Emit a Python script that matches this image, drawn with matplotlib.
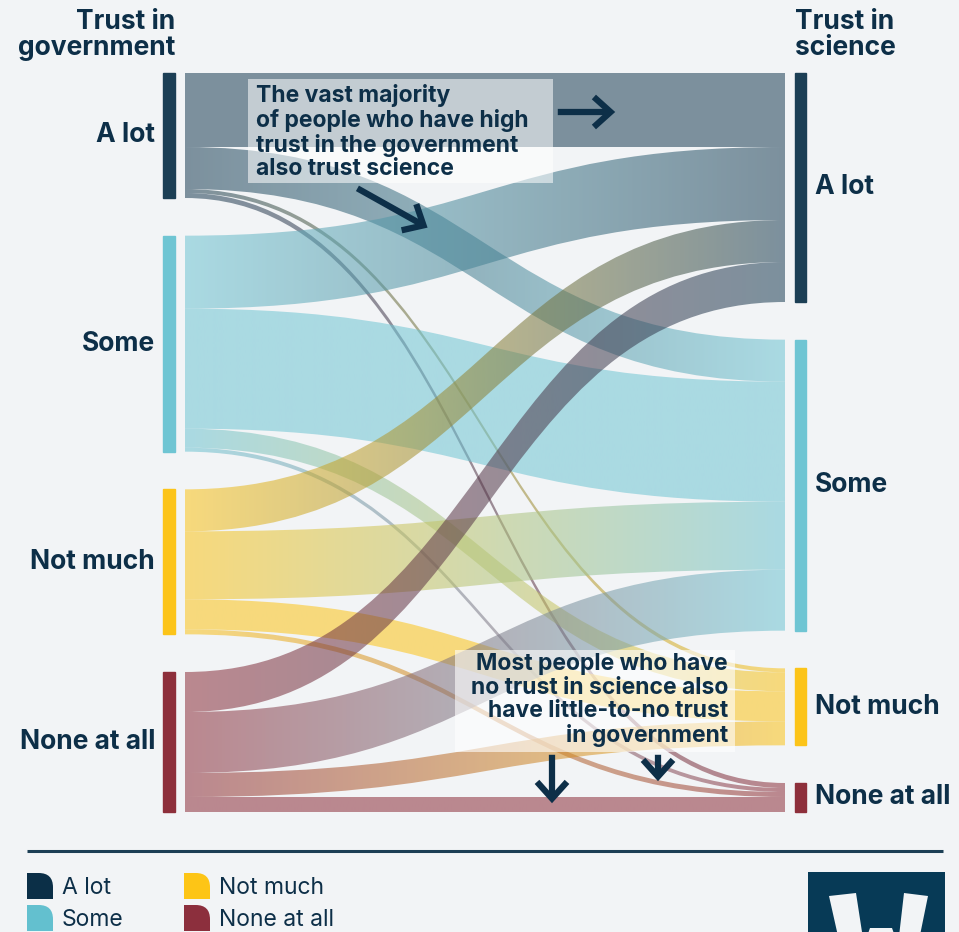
import numpy as np
import matplotlib
matplotlib.use('Agg')
import matplotlib.pyplot as plt
from matplotlib.path import Path
from matplotlib.patches import PathPatch, Rectangle, FancyArrowPatch, Polygon
from matplotlib.colors import to_rgb

# categories (same on both sides)
levels = ['A lot', 'Some', 'Not much', 'None at all']
node_colors = ['#1c3f55', '#6fc5d3', '#fcc419', '#8d2f3b']
legend_colors = ['#0b2f47', '#63c0cf', '#fdc516', '#8c2f3d']

# flows: rows = trust in government, columns = trust in science
flow_alot = [74, 42, 4, 5]
flow_some = [73, 120, 19, 4]
flow_notmuch = [42, 68, 30, 5]
flow_none = [40, 61, 24, 15]
flows = np.array([flow_alot, flow_some, flow_notmuch, flow_none], dtype=float)

BG = '#f2f4f6'
INK = '#0d2f48'
FONT = ['Inter', 'DejaVu Sans']

fig = plt.figure(figsize=(9.59, 9.32), dpi=100, facecolor=BG)
ax = fig.add_axes([0, 0, 1, 1])
ax.set_facecolor(BG)
ax.axis('off')

top, bottom = 73, 812
left_sizes = flows.sum(axis=1)
right_sizes = flows.sum(axis=0)


def node_tops(sizes):
    gap = (bottom - top - sizes.sum()) / (len(sizes) - 1)
    tops = []
    y = top
    for s in sizes:
        tops.append(y)
        y += s + gap
    return tops


left_tops = node_tops(left_sizes)
right_tops = node_tops(right_sizes)

xl_bar, xr_bar = 163, 795
bar_w = 12
x0, x1 = 185, 785
xm = (x0 + x1) / 2

# ribbon positions: outflows stacked by target, inflows stacked by source
left_off = list(left_tops)
right_off = list(right_tops)
ribbons = []
for i in range(4):
    for j in range(4):
        v = flows[i, j]
        ribbons.append((i, j, left_off[i], v))
        left_off[i] += v
ribbon_end = {}
for j in range(4):
    for i in range(4):
        ribbon_end[(i, j)] = right_off[j]
        right_off[j] += flows[i, j]


def ribbon_path(ya, yb, w):
    verts = [(x0, ya), (xm, ya), (xm, yb), (x1, yb),
             (x1, yb + w), (xm, yb + w), (xm, ya + w), (x0, ya + w), (x0, ya)]
    codes = [Path.MOVETO, Path.CURVE4, Path.CURVE4, Path.CURVE4,
             Path.LINETO, Path.CURVE4, Path.CURVE4, Path.CURVE4, Path.CLOSEPOLY]
    return Path(verts, codes)


n = 256
t = np.linspace(0, 1, n)
for i, j, ya, v in ribbons:
    yb = ribbon_end[(i, j)]
    patch = PathPatch(ribbon_path(ya, yb, v), facecolor='none', edgecolor='none')
    ax.add_patch(patch)
    c0 = np.array(to_rgb(node_colors[i]))
    c1 = np.array(to_rgb(node_colors[j]))
    grad = np.zeros((1, n, 4))
    grad[0, :, :3] = c0[None, :] * (1 - t[:, None]) + c1[None, :] * t[:, None]
    grad[0, :, 3] = 0.55
    im = ax.imshow(grad, extent=(x0, x1, bottom + 5, top - 5), aspect='auto',
                   interpolation='bilinear', zorder=2)
    im.set_clip_path(patch)

# node bars and labels
for k in range(4):
    ax.add_patch(Rectangle((xl_bar, left_tops[k]), bar_w, left_sizes[k],
                           color=node_colors[k], zorder=3))
    ax.add_patch(Rectangle((xr_bar, right_tops[k]), bar_w - 1, right_sizes[k],
                           color=node_colors[k], zorder=3))
    ax.text(155, left_tops[k] + left_sizes[k] / 2, levels[k], ha='right',
            va='center', fontsize=19, fontweight='bold', color=INK, family=FONT)
    ax.text(815, right_tops[k] + right_sizes[k] / 2, levels[k], ha='left',
            va='center', fontsize=19, fontweight='bold', color=INK, family=FONT)

# axis titles
ax.text(175, 9, 'Trust in\ngovernment', ha='right', va='top', fontsize=19,
        fontweight='bold', color=INK, family=FONT, linespacing=1.0)
ax.text(795, 9, 'Trust in\nscience', ha='left', va='top', fontsize=19,
        fontweight='bold', color=INK, family=FONT, linespacing=1.0)

# annotation 1
ax.add_patch(Rectangle((248, 79), 305, 104, facecolor='white', alpha=0.55,
                       edgecolor='none', zorder=4))
ax.text(256, 84, 'The vast majority\nof people who have high\ntrust in the government\nalso trust science',
        ha='left', va='top', fontsize=16.5, fontweight='bold', color=INK,
        family=FONT, linespacing=1.1, zorder=5)

# annotation 2
ax.add_patch(Rectangle((455, 650), 280, 102, facecolor='white', alpha=0.6,
                       edgecolor='none', zorder=4))
ax.text(728, 653, 'Most people who have\nno trust in science also\nhave little-to-no trust\nin government',
        ha='right', va='top', fontsize=16.5, fontweight='bold', color=INK,
        family=FONT, linespacing=1.1, zorder=5)

arrows = [((555, 112), (618, 112)), ((355, 187), (430, 229)),
          ((552, 752), (552, 806)), ((658, 752), (658, 784))]
for a, b in arrows:
    ax.add_patch(FancyArrowPatch(a, b, arrowstyle='->,head_length=0.5,head_width=0.45',
                                 mutation_scale=24, lw=4.5, color=INK,
                                 capstyle='butt', joinstyle='miter', zorder=6))

# separator
ax.plot([27, 943], [851, 851], color='#1c3f55', lw=2.2, solid_capstyle='butt')


def legend_shape(x, y, s):
    r = s * 0.55
    verts = [(x, y + s), (x, y), (x + s - r, y), (x + s, y), (x + s, y + r),
             (x + s, y + s), (x, y + s)]
    codes = [Path.MOVETO, Path.LINETO, Path.LINETO, Path.CURVE3, Path.CURVE3,
             Path.LINETO, Path.CLOSEPOLY]
    return Path(verts, codes)


legend_pos = [(27, 873), (27, 905), (184, 873), (184, 905)]
for k, (lx, ly) in enumerate(legend_pos):
    ax.add_patch(PathPatch(legend_shape(lx, ly, 26), facecolor=legend_colors[k],
                           edgecolor='none'))
    ax.text(lx + 35, ly + 15, levels[k], ha='left', va='center', fontsize=16.5,
            color=INK, family=FONT)

# logo block with a W mark running off the bottom edge
logo = Rectangle((808, 872), 137, 80, facecolor='#073a56', edgecolor='none', zorder=3)
ax.add_patch(logo)
w_mark = Polygon([(829, 896), (856, 893), (864, 945), (870, 928), (892, 928),
                  (898, 945), (904, 893), (928, 896), (918, 945), (840, 945)],
                 closed=True, facecolor=BG, edgecolor='none', zorder=4)
ax.add_patch(w_mark)
w_mark.set_clip_path(logo)

ax.set_xlim(0, 959)
ax.set_ylim(932, 0)
fig.savefig('out.png', dpi=100, facecolor=BG)
